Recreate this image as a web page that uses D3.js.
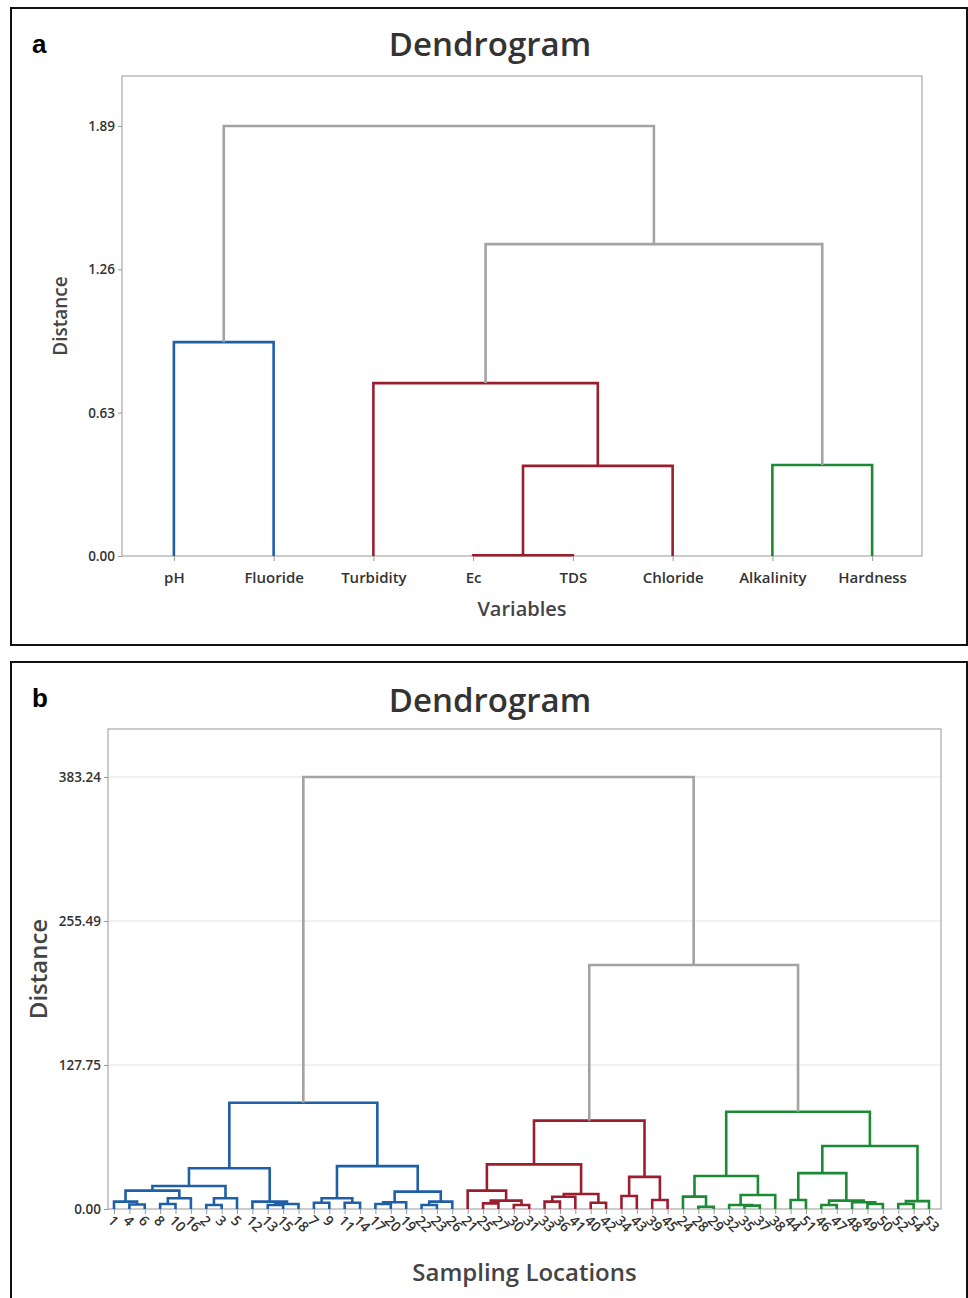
<!DOCTYPE html>
<html><head><meta charset="utf-8">
<script src="https://cdnjs.cloudflare.com/ajax/libs/d3/7.8.5/d3.min.js"></script>
<style>
html,body{margin:0;padding:0;background:#fff;}
svg text{font-family:"Open Sans","Noto Sans",sans-serif;}
</style></head>
<body>
<svg id="chart" width="968" height="1298"></svg>
<script>
// ---------------- DATA ----------------
// Panel a: variables
const varLeaves = ["pH","Fluoride","Turbidity","Ec","TDS","Chloride","Alkalinity","Hardness"];
// [id, left, right, distance, cluster] (cluster 0 = above cut)
const varMerges = [
  ["p1","pH","Fluoride",0.94,1],
  ["p2","Ec","TDS",0.003,2],
  ["p3","p2","Chloride",0.396,2],
  ["p4","Turbidity","p3",0.76,2],
  ["p5","Alkalinity","Hardness",0.40,3],
  ["p6","p4","p5",1.371,0],
  ["p7","p1","p6",1.89,0]
];
const varTicks = [0.00, 0.63, 1.26, 1.89];

// Panel b: sampling locations
const locLeaves = ["1","4","6","8","10","16","2","3","5","12","13","15","18","7","9","11","14","17","20","19","22","23","26",
  "21","25","27","30","31","33","36","41","40","42","34","43","39","45",
  "24","28","29","32","35","37","38","44","51","46","47","48","49","50","52","54","53"];
const locMerges = [
  ["b1","4","6",4.0,1],
  ["b2","1","b1",6.5,1],
  ["b3","8","10",4.5,1],
  ["b4","b3","16",9.5,1],
  ["b5","b2","b4",16.3,1],
  ["b6","2","3",3.5,1],
  ["b7","b6","5",9.5,1],
  ["b8","b5","b7",20.4,1],
  ["b9","13","15",3.5,1],
  ["b10","b9","18",4.5,1],
  ["b11","12","b10",6.5,1],
  ["b12","b8","b11",36.1,1],
  ["b13","7","9",5.5,1],
  ["b14","11","14",5.5,1],
  ["b15","b13","b14",9.5,1],
  ["b16","17","20",4.5,1],
  ["b17","b16","19",6.0,1],
  ["b18","22","23",3.5,1],
  ["b19","b18","26",6.5,1],
  ["b20","b17","b19",15.4,1],
  ["b21","b15","b20",38.0,1],
  ["b22","b12","b21",94.3,1],
  ["r1","25","27",5.0,2],
  ["r2","30","31",3.5,2],
  ["r3","r1","r2",7.4,2],
  ["r4","21","r3",16.3,2],
  ["r5","33","36",6.5,2],
  ["r6","r5","41",10.9,2],
  ["r7","40","42",5.6,2],
  ["r8","r6","r7",13.3,2],
  ["r9","r4","r8",39.6,2],
  ["r10","34","43",11.5,2],
  ["r11","39","45",8.0,2],
  ["r12","r10","r11",28.5,2],
  ["r13","r9","r12",78.4,2],
  ["g1","28","29",2.0,3],
  ["g2","24","g1",11.0,3],
  ["g3","35","37",3.0,3],
  ["g4","32","g3",3.5,3],
  ["g5","g4","38",12.4,3],
  ["g6","g2","g5",29.3,3],
  ["g7","44","51",8.0,3],
  ["g8","46","47",3.5,3],
  ["g9","49","50",4.5,3],
  ["g10","48","g9",6.0,3],
  ["g11","g8","g10",7.4,3],
  ["g12","g7","g11",31.8,3],
  ["g13","52","54",4.5,3],
  ["g14","g13","53",7.0,3],
  ["g15","g12","g14",55.9,3],
  ["g16","g6","g15",86.3,3],
  ["t1","r13","g16",216.5,0],
  ["t2","b22","t1",383.24,0]
];
const locTicks = [0.00, 127.75, 255.49, 383.24];

// ---------------- STYLE ----------------
const clusterColour = ["#a3a3a3","#1f5fa6","#9b1e2e","#1c8a35"];
const svg = d3.select("#chart");

function panel(cfg){
  const g = svg.append("g");
  g.append("rect").attr("x",cfg.frame[0]).attr("y",cfg.frame[1])
    .attr("width",cfg.frame[2]).attr("height",cfg.frame[3])
    .attr("fill","none").attr("stroke","#111").attr("stroke-width",2);
  g.append("text").attr("x",cfg.frame[0]+21).attr("y",cfg.frame[1]+45)
    .style("font-family","'Liberation Sans',Arial,sans-serif")
    .attr("font-weight","bold").attr("font-size",26).attr("fill","#000").text(cfg.letter);
  g.append("text").attr("x",490).attr("y",cfg.titleY).attr("text-anchor","middle")
    .attr("font-size",33).attr("font-weight",600).attr("fill","#333").text("Dendrogram");

  const [L,T,R,B] = cfg.plot;
  const x = d3.scalePoint().domain(cfg.leaves).range(cfg.xr).padding(cfg.pad);
  const y = d3.scaleLinear().domain([0,cfg.ymax]).range([B,T]);

  if(cfg.grid){
    g.append("g").selectAll("line").data(cfg.ticks.filter(d=>d>0)).join("line")
      .attr("x1",L).attr("x2",R).attr("y1",d=>y(d)).attr("y2",d=>y(d))
      .attr("stroke","#e2e2e2").attr("stroke-width",1);
  }
  g.append("rect").attr("x",L).attr("y",T).attr("width",R-L).attr("height",B-T)
    .attr("fill","none").attr("stroke","#a8a8a8").attr("stroke-width",1.2);

  const ya = g.append("g").attr("transform",`translate(${L},0)`)
    .call(d3.axisLeft(y).tickValues(cfg.ticks).tickFormat(d3.format(".2f")).tickSize(4).tickPadding(3));
  ya.select(".domain").remove();
  ya.selectAll("line").attr("stroke","#999");
  ya.selectAll("text").attr("font-size",cfg.tickFont).attr("fill","#333").attr("font-weight",600)
    .style("font-family","'Open Sans',sans-serif");

  const xa = g.append("g").attr("transform",`translate(0,${B})`)
    .call(d3.axisBottom(x).tickSize(5).tickPadding(cfg.rot?4:11));
  xa.select(".domain").remove();
  xa.selectAll("line").attr("stroke","#999");
  const xt = xa.selectAll("text").attr("font-size",cfg.leafFont).attr("fill","#333").attr("font-weight",600)
    .style("font-family","'Open Sans',sans-serif");
  if(cfg.rot){
    xt.attr("text-anchor","start").attr("dy","0.35em").attr("y",0).attr("x",0)
      .attr("transform","translate(-4,9) rotate(45)");
  }

  const pos = {};
  cfg.leaves.forEach(l=>pos[l]={x:x(l),h:0});
  const links = g.append("g").attr("fill","none").attr("stroke-width",cfg.lw)
    .attr("stroke-linejoin","miter").attr("stroke-linecap","butt");
  cfg.merges.forEach(([id,a,b,h,c])=>{
    const A=pos[a], Bn=pos[b];
    pos[id]={x:(A.x+Bn.x)/2,h:h};
    links.append("path")
      .attr("d",`M${A.x},${y(A.h)}V${y(h)}H${Bn.x}V${y(Bn.h)}`)
      .attr("stroke",clusterColour[c]);
  });

  g.append("text").attr("transform",`translate(${cfg.yTitleX},${(T+B)/2}) rotate(-90)`)
    .attr("text-anchor","middle").attr("font-size",cfg.yTitleFont).attr("font-weight",600)
    .attr("fill","#444").text("Distance");
  g.append("text").attr("x",(L+R)/2).attr("y",cfg.xTitleY).attr("text-anchor","middle")
    .attr("font-size",cfg.xTitleFont).attr("font-weight",600).attr("fill","#444").text(cfg.xTitle);
}

panel({frame:[11,8,956,637],letter:"a",titleY:56,plot:[122,76,922,556],
  leaves:varLeaves,merges:varMerges,ticks:varTicks,ymax:480/227.5,
  xr:[124,922],pad:0.5,grid:false,tickFont:13.5,leafFont:15,rot:false,lw:2.6,
  yTitleX:67,yTitleFont:19,xTitle:"Variables",xTitleY:616,xTitleFont:20});

panel({frame:[11,662,956,640],letter:"b",titleY:712,plot:[108,729,941,1209],
  leaves:locLeaves,merges:locMerges,ticks:locTicks,ymax:480/1.1272,
  xr:[114,929],pad:0,grid:true,tickFont:13.5,leafFont:14,rot:true,lw:2.6,
  yTitleX:47,yTitleFont:24,xTitle:"Sampling Locations",xTitleY:1281,xTitleFont:24});
</script>
</body></html>
